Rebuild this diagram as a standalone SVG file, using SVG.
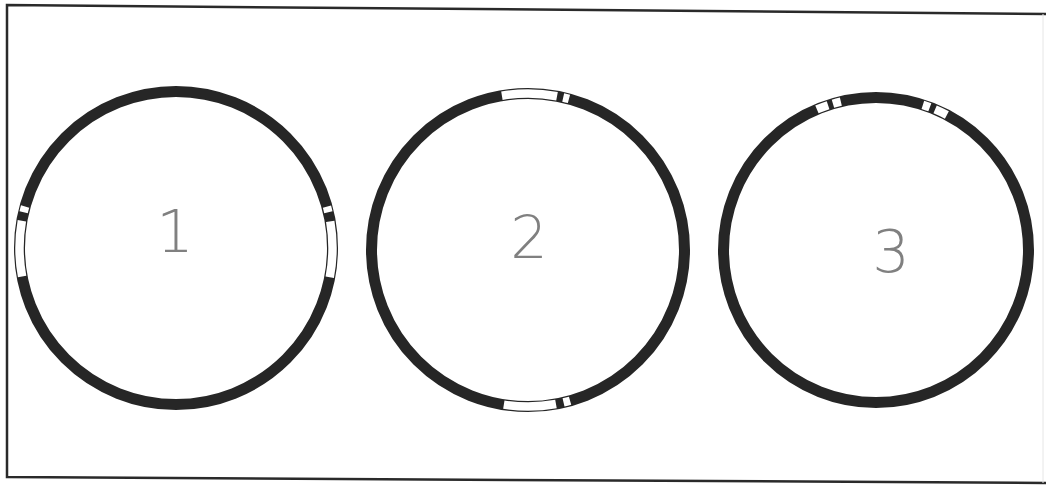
<svg xmlns="http://www.w3.org/2000/svg" width="1046" height="486" viewBox="0 0 1046 486">
<style>
.ring{fill:none;stroke:#262626;stroke-width:11}
.gap{fill:none;stroke:#ffffff;stroke-width:8.5}
.num{font-family:"DejaVu Sans","Liberation Sans",sans-serif;font-weight:200;font-size:59px;fill:#808080;text-anchor:middle}
</style>
<rect width="1046" height="486" fill="#ffffff"/>
<path d="M1046 14 L7 5 L7 477 L1046 483" fill="none" stroke="#2a2a2a" stroke-width="2.5"/>
<line x1="1043" y1="14" x2="1043" y2="483" stroke="#e6e6e6" stroke-width="1"/>
<g id="node1">
  <circle class="ring" cx="176" cy="248" r="156.5"/>
  <circle class="gap" cx="176" cy="248" r="156.5" pathLength="360" stroke-dasharray="20.5 339.5" transform="rotate(169.5 176 248)"/>
  <circle class="gap" cx="176" cy="248" r="156.5" pathLength="360" stroke-dasharray="2.2 357.8" transform="rotate(193.2 176 248)"/>
  <circle class="gap" cx="176" cy="248" r="156.5" pathLength="360" stroke-dasharray="20.6 339.4" transform="rotate(-9.8 176 248)"/>
  <circle class="gap" cx="176" cy="248" r="156.5" pathLength="360" stroke-dasharray="2.1 357.9" transform="rotate(-15.3 176 248)"/>
  <text class="num" x="175" y="252">1</text>
</g>
<g id="node2">
  <circle class="ring" cx="528" cy="250" r="156.5"/>
  <circle class="gap" cx="528" cy="250" r="156.5" pathLength="360" stroke-dasharray="20.3 339.7" transform="rotate(260.4 528 250)"/>
  <circle class="gap" cx="528" cy="250" r="156.5" pathLength="360" stroke-dasharray="2.2 357.8" transform="rotate(283 528 250)"/>
  <circle class="gap" cx="528" cy="250" r="156.5" pathLength="360" stroke-dasharray="19.2 340.8" transform="rotate(79.7 528 250)"/>
  <circle class="gap" cx="528" cy="250" r="156.5" pathLength="360" stroke-dasharray="2.5 357.5" transform="rotate(74.4 528 250)"/>
  <text class="num" x="529" y="258">2</text>
</g>
<g id="node3">
  <circle class="ring" cx="876" cy="250" r="152.5"/>
  <circle class="gap" cx="876" cy="250" r="152.5" pathLength="360" stroke-dasharray="4.5 355.5" transform="rotate(247.2 876 250)"/>
  <circle class="gap" cx="876" cy="250" r="152.5" pathLength="360" stroke-dasharray="3.1 356.9" transform="rotate(253.6 876 250)"/>
  <circle class="gap" cx="876" cy="250" r="152.5" pathLength="360" stroke-dasharray="2.8 357.2" transform="rotate(287.9 876 250)"/>
  <circle class="gap" cx="876" cy="250" r="152.5" pathLength="360" stroke-dasharray="4.9 355.1" transform="rotate(292.8 876 250)"/>
  <text class="num" x="891" y="272">3</text>
</g>
<g id="connectors"></g>
</svg>
